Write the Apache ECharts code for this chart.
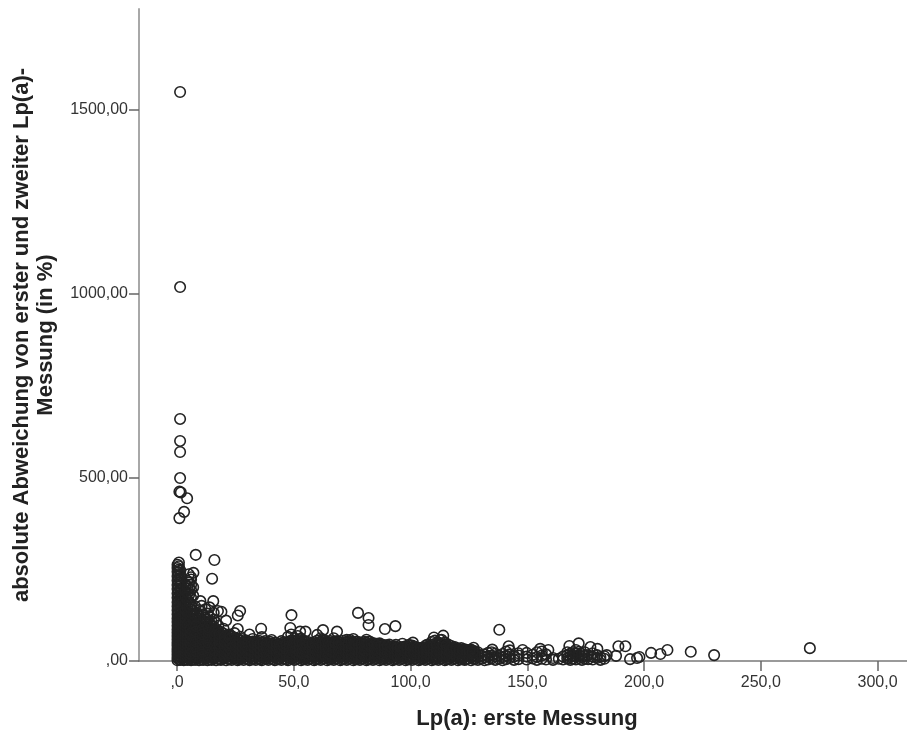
<!DOCTYPE html>
<html><head><meta charset="utf-8">
<style>html,body{margin:0;padding:0;background:#fff}#c{width:907px;height:731px}</style>
<script src="https://cdn.jsdelivr.net/npm/echarts@6/dist/echarts.min.js"></script></head>
<body><div id="c"></div>
<script>
const xTicks = [0,50,100,150,200,250,300];
const yTicks = [0,500,1000,1500];
const xTitle = 'Lp(a): erste Messung';
const yTitle = 'absolute Abweichung von erster und zweiter Lp(a)-\nMessung (in %)';

// isolated points [Lp(a), deviation]
const outliers = [
[1.3,1549],[1.3,1018],[1.3,659],[1.3,599],[1.3,569],[1.3,498],[1,461],[1.6,459],[4.3,443],[3,406],[1,389],
[8,289],[16,275],[15,224],[10,163],[15.5,163],[7,240],[5,236],[6,222],[10.5,150],[17.5,136],[19,134],[27,136],[26,124],[21,110],
[36,88],[26,87],[31,72],[49,125],[48.5,90],[52.7,80],[55,80],[62.5,84],[68.5,80],[60,71],[77.5,131],[82,117],[82,98],[89,87],[93.5,95],
[96.5,47],[101,50],[110,64],[114,69],[112.6,57],[107,44],[127,36],[135,31],[138,85],[142,40],[148,30],[155.5,33],[159,30],
[168,41],[172,48],[177,38],[180,33],[184,16],[189,40],[192,40],[188,14],[194,5],[198,11],[197,8],[203,22],[207,19],[210,30],[220,25],[230,16],[271,35]
];

// left spike and dense mass: [x, y, y, y ...]
const denseColumns = [
[0.2,2,9,17,25,33,42,50,59,68,77,86,96,106,116,127,138,149,160,172,184,196,207,219,231,243,253,262],
[0.8,5,13,21,29,38,47,55,64,73,82,92,101,112,122,133,145,156,166,178,190,202,214,225,237,249,258,268],
[1.4,3,11,19,27,35,44,52,61,70,79,88,98,108,119,130,141,152,163,175,186,198,210,221,233,246],
[2.1,7,15,23,31,40,48,57,66,75,84,94,104,115,126,137,148,159,170,181,193],
[2.9,2,10,18,26,34,43,51,60,69,78,88,97,107,118,129,140,150],
[3.6,6,14,22,30,39,47,56,65,74,83,93,103,113,125,138,156,175,190,208],
[4.4,3,11,20,28,36,45,53,62,71,80,90,100,109,121,133,146,168,186,203,218],
[5.2,8,16,24,32,41,49,58,67,76,85,95,105,118,131,147,160,181,197,214],
[6.0,2,10,18,27,35,43,52,61,70,79,89,99,110,123,141,155,172,193,207,228],
[6.9,5,13,21,30,38,47,55,64,73,82,92,102,114,128,136,178,201],
[7.7,3,11,19,28,36,44,53,62,71,80,90,101,112,124,149],
[8.6,7,15,23,32,40,49,58,67,76,85,94,104,118,130],
[9.4,2,10,18,26,35,43,52,61,69,78,87,97,108,122,139],
[10.3,6,14,22,31,39,48,56,65,74,83,92,103,115,134],
[11.2,3,11,19,27,36,44,53,62,71,79,89,99,110,127],
[12.1,8,16,24,33,41,50,58,67,76,85,94,105,118,141],
[13.0,2,10,18,26,35,43,51,60,69,78,87,98,112,129],
[13.9,5,13,21,30,38,47,55,64,73,82,91,102,120,146],
[14.8,3,11,19,27,36,44,53,61,70,79,88,97,108],
[15.7,7,15,23,32,40,48,57,66,74,83,93,113,131],
[16.7,2,10,18,27,35,43,52,60,69,78,87,104],
[17.7,6,14,22,30,39,47,56,64,73,82,96],
[18.8,3,11,19,28,36,44,53,61,70,79],
[19.9,8,16,24,32,41,49,58,66,75,88],
[21.0,2,10,18,27,35,43,52,60,69],
[22.2,5,13,21,30,38,46,55,63,72],
[23.4,3,11,19,28,36,44,53,60,67],
[24.6,7,15,23,31,40,48,56,64,76],
[25.9,2,10,18,27,35,43,51,60],
[27.2,6,14,22,30,38,47,55,66],
[28.5,3,11,19,27,36,44,52],
[29.8,8,16,24,32,40,48,56],
[31.1,2,10,18,26,34,43,51],
[32.4,5,13,21,29,38,46,53,60],
[33.7,3,11,19,27,35,43,50],
[35.0,7,15,23,31,39,47,55],
[36.3,2,10,18,26,34,42,50,65],
[37.7,6,14,22,30,38,46,54],
[39.1,3,11,19,27,35,43,48],
[40.5,8,16,24,32,40,47,57],
[41.9,2,10,18,26,34,42,50],
[43.3,5,13,21,29,37,45],
[44.7,3,11,19,27,35,42,54],
[46.1,7,15,23,31,39,47],
[47.5,2,10,18,26,34,42,52,66],
[48.9,6,14,22,30,38,46,56,72],
[50.3,3,11,19,27,35,43,51,62],
[51.7,8,16,24,32,40,48,58,68],
[53.1,2,10,18,26,34,42,50,61],
[54.5,5,13,21,29,37,45,55],
[55.9,3,11,19,27,35,43,52],
[57.3,7,15,23,31,39,47],
[58.7,2,10,18,26,34,42,51],
[60.1,6,14,22,30,38,46,56],
[61.5,3,11,19,27,35,43,53,62],
[62.9,8,16,24,32,40,48,58],
[64.3,2,10,18,26,34,42,50],
[65.7,5,13,21,29,37,45,54],
[67.1,3,11,19,27,35,43,50,62],
[68.5,7,15,23,31,39,47,54],
[69.9,2,10,18,26,34,42,49],
[71.3,6,14,22,30,38,46,55],
[72.7,3,11,19,27,35,43,52,58],
[74.1,8,16,24,32,40,48,57],
[75.5,2,10,18,26,34,42,50,60],
[76.9,5,13,21,29,37,45,53],
[78.3,3,11,19,27,35,43,51],
[79.7,7,15,23,31,39,47],
[81.1,2,10,18,26,34,42,50,58],
[82.5,6,14,22,30,38,46,53],
[83.9,3,11,19,27,35,43,49],
[85.3,8,16,24,32,40,47],
[86.7,2,10,18,26,34,42,48],
[88.1,5,13,21,29,37,44],
[89.5,3,11,19,27,35,43],
[90.9,7,15,23,31,38,45],
[92.3,2,10,18,26,34,40],
[93.7,6,14,22,30,37,44],
[95.1,3,11,19,27,34],
[96.5,8,16,24,32,38],
[97.9,2,10,18,26,33,40],
[99.3,5,13,21,29,36,44],
[100.7,3,11,19,27,35,42],
[102.1,7,15,23,31,38],
[103.5,2,10,18,26,33],
[104.9,6,14,22,30,36],
[106.3,3,11,19,27,35,41],
[107.7,8,16,24,32,39],
[109.1,2,10,18,26,34,44,52],
[110.5,5,13,21,29,37,47,56],
[111.9,3,11,19,27,35,42,50],
[113.3,7,15,23,31,39,46,58],
[114.7,2,10,18,26,34,41,50],
[116.1,6,14,22,30,38,45],
[117.5,3,11,19,27,35,41],
[118.9,8,16,24,32,38],
[120.3,2,10,18,26,34],
[121.7,5,13,21,29,35],
[123.1,3,11,19,27,32],
[124.5,7,15,23,30],
[125.9,2,10,18,26,31],
[127.3,5,13,21,27],
[128.8,3,11,18,24],
[130.4,6,14],
[131.7,2,10,18],
[133.2,4,13,22],
[134.7,7,15,24],
[136.3,3,12,20],
[137.8,6,15],
[139.4,2,10,19],
[140.9,5,14,26],
[142.5,8,18,29],
[144.3,3,12],
[146.2,5,15,21],
[149.7,4,12,22],
[152.3,7,17],
[154.1,3,11,24],
[156.2,6,15,26],
[158.0,4,18],
[161.0,8,3],
[163.5,6],
[165.3,4,12],
[167.1,7,16,24],
[168.4,3,11,20],
[169.6,6,14,24],
[170.8,4,12,20,30],
[172.1,8,16,25],
[173.4,3,11,19],
[174.6,6,14,24],
[176.0,5,16],
[178.0,4,12,21],
[179.8,8,16],
[181.3,3,11],
[183.0,6,13]
];

// further readings inside the black band
const bandColumns = [
[5.7,6,20,33,47,60,74,87],[8.1,12,26,39,53,66,80,95],[10.8,4,18,31,45,58,72,85],[13.4,9,23,37,50,64,77,92],
[16.2,14,28,41,55,68,81],[18.2,5,19,33,46,60,74],[20.4,11,25,38,52,65],[22.8,7,21,34,48,61,70],[25.2,13,27,40,54],
[26.6,4,18,32,45,58],[28.0,9,23,37,50,60],[29.2,15,29,42,53],[30.4,5,20,33,47],[31.8,12,26,38,50],[33.1,7,22,35,48],
[34.4,14,28,41,52],[35.7,4,18,32,45],[37.0,10,24,37,50],[38.4,6,21,33,46],[39.8,13,27,40,52],[41.2,5,19,32,45],
[42.6,11,25,38,49],[44.0,7,22,34,47],[45.4,14,28,41,50],[46.8,4,18,32,44],[48.2,9,24,36,50],[49.6,13,27,40,53],
[51.0,6,21,33,46,56],[52.4,12,26,38,52],[53.8,5,20,32,46],[55.2,10,24,37,49],[56.6,7,22,33,47],[58.0,14,28,40,48],
[59.4,4,18,31,46],[60.8,11,25,37,50],[62.2,6,21,33,46],[63.6,13,27,38,52],[65.0,5,20,32,47],[66.4,10,24,36,50],
[67.8,7,22,33,48],[69.2,14,28,40,50],[70.6,4,18,31,44],[72.0,11,25,37,50],[73.4,6,21,33,47],[74.8,13,27,38,52],
[76.2,5,20,32,48],[77.6,10,24,36,48],[79.0,7,22,33,46],[80.4,14,28,38,52],[81.8,4,18,31,46],[83.2,11,25,37,48],
[84.6,6,21,33,44],[86.0,13,27,38,46],[87.4,5,20,31,44],[88.8,10,24,33,41],[90.2,7,22,36,42],[91.6,14,28,38],
[93.0,4,18,31,40],[94.4,11,25,36],[95.8,6,21,30,37],[97.2,13,27,36],[98.6,5,20,32,38],[100.0,10,24,33,40],
[101.4,7,21,30,39],[102.8,13,27,35],[104.2,4,18,28,35],[105.6,10,24,33],[107.0,6,21,30,38],[108.4,13,28,37],
[109.8,5,20,32,41],[111.2,10,24,33,45],[112.6,7,22,36,48],[114.0,13,28,37,44],[115.4,4,18,31,42],[116.8,11,25,36],
[118.2,6,21,30,36],[119.6,13,28,34],[121.0,5,20,30],[122.4,9,24,31],[123.8,4,18,28],[125.2,12,22,29],[126.6,7,20,25]
];

const points = outliers.slice();
denseColumns.concat(bandColumns).forEach(function (col) {
  for (let i = 1; i < col.length; i++) points.push([col[0], col[i]]);
});

const chart = echarts.init(document.getElementById('c'), null, {renderer:'canvas'});
const labelFont = {color:'#333', fontFamily:'"Liberation Sans",Arial,sans-serif', fontSize:16};
chart.setOption({
  animation:false,
  backgroundColor:'#fff',
  grid:{left:139, top:9, width:768, height:652, containLabel:false},
  xAxis:{
    type:'value', min:-16.3, max:312.6, splitLine:{show:false},
    axisLine:{onZero:false, lineStyle:{color:'#7a7a7a', width:1.5}},
    axisTick:{show:true, length:10, customValues:xTicks, lineStyle:{color:'#666', width:1.5}},
    axisLabel:Object.assign({customValues:xTicks, margin:14, showMinLabel:true, showMaxLabel:true,
      formatter:function(v){return v===0?',0':v.toFixed(1).replace('.',',');}}, labelFont)
  },
  yAxis:{
    type:'value', min:0, max:1775, splitLine:{show:false},
    axisLine:{onZero:false, lineStyle:{color:'#a8a8a8', width:2}},
    axisTick:{show:true, length:10, customValues:yTicks, lineStyle:{color:'#666', width:1.5}},
    axisLabel:Object.assign({customValues:yTicks, margin:11, padding:[5,0,0,0],
      formatter:function(v){return v===0?',00':v.toFixed(2).replace('.',',');}}, labelFont)
  },
  graphic:[
    {type:'text', x:527, y:719, style:{text:xTitle, fill:'#222', font:'bold 22px "Liberation Sans",Arial,sans-serif', textAlign:'center', textVerticalAlign:'middle'}},
    {type:'text', x:33.5, y:335, rotation:Math.PI/2, style:{text:yTitle, fill:'#222', font:'bold 22px "Liberation Sans",Arial,sans-serif', lineHeight:24, textAlign:'center', textVerticalAlign:'middle'}}
  ],
  series:[{
    type:'scatter', data:points, clip:true, symbol:'circle', symbolSize:10.5,
    itemStyle:{color:'rgba(0,0,0,0)', borderColor:'#222', borderWidth:1.6, opacity:1},
    silent:true, large:false, progressive:0
  }]
});
</script></body></html>
